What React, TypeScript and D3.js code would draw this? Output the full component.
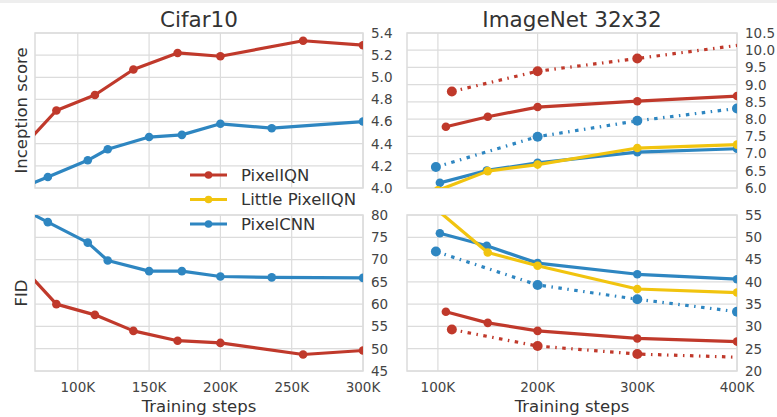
import React from 'react'
import * as d3 from 'd3'

// training steps are in thousands
const cifarStepsIQN = [62, 85, 112, 139, 170, 200, 258, 300]
const cifarIsIQN = [4.38, 4.7, 4.84, 5.07, 5.22, 5.19, 5.33, 5.29]
const cifarFidIQN = [68.0, 60.0, 57.6, 54.0, 51.8, 51.3, 48.7, 49.6]
const cifarStepsCNN = [62, 79, 107, 121, 150, 173, 200, 236, 300]
const cifarIsCNN = [4.01, 4.1, 4.25, 4.35, 4.46, 4.48, 4.58, 4.54, 4.6]
const cifarFidCNN = [81.2, 78.4, 73.8, 69.8, 67.4, 67.4, 66.2, 66.0, 65.9]

const inetStepsIQN = [108, 150, 200, 300, 400]
const inetIsIQN = [7.78, 8.07, 8.35, 8.52, 8.67]
const inetFidIQN = [33.3, 30.8, 29.0, 27.3, 26.6]
const inetStepsLittle = [100, 150, 200, 300, 400]
const inetIsLittle = [5.93, 6.49, 6.68, 7.16, 7.26]
const inetFidLittle = [56.0, 46.6, 43.6, 38.4, 37.6]
const inetStepsCNN = [102, 149, 200, 300, 400]
const inetIsCNN = [6.15, 6.51, 6.73, 7.04, 7.14]
const inetFidCNN = [50.9, 48.1, 44.2, 41.7, 40.6]
const inetStepsIQNDot = [114, 200, 300, 400]
const inetIsIQNDot = [8.8, 9.39, 9.76, 10.14]
const inetFidIQNDot = [29.3, 25.6, 23.8, 23.1]
const inetStepsCNNDot = [98, 200, 300, 400]
const inetIsCNNDot = [6.61, 7.49, 7.95, 8.31]
const inetFidCNNDot = [46.8, 39.3, 36.1, 33.3]

const cifarXTicks = [100, 150, 200, 250, 300]
const inetXTicks = [100, 200, 300, 400]
const cifarIsTicks = [4.0, 4.2, 4.4, 4.6, 4.8, 5.0, 5.2, 5.4]
const inetIsTicks = [6.0, 6.5, 7.0, 7.5, 8.0, 8.5, 9.0, 9.5, 10.0, 10.5]
const cifarFidTicks = [45, 50, 55, 60, 65, 70, 75, 80]
const inetFidTicks = [20, 25, 30, 35, 40, 45, 50, 55]

const legendNames = ['PixelIQN', 'Little PixelIQN', 'PixelCNN']

const RED = '#c0392b'
const YELLOW = '#f1c40f'
const BLUE = '#2e86c1'
const GRID = '#dcdcdc'
const TEXT = '#333'
const TICK = '#444'
const FONT = 'DejaVu Sans, sans-serif'

type Series = { x: number[]; y: number[]; color: string; dotted?: boolean; noMarkLast?: boolean }

const zip = (xs: number[], ys: number[]) => xs.map((x, i) => [x, ys[i]] as [number, number])

function Panel({ id, left, right, top, bottom, xDomain, yDomain, xTicks, yTicks, yFmt, series, showX }: any) {
  const x = d3.scaleLinear().domain(xDomain).range([left, right])
  const y = d3.scaleLinear().domain(yDomain).range([bottom, top])
  const line = d3.line<[number, number]>().x((d) => x(d[0])).y((d) => y(d[1]))
  return (
    <g>
      <defs>
        <clipPath id={id}>
          <rect x={left} y={top} width={right - left} height={bottom - top} />
        </clipPath>
      </defs>
      <rect x={left} y={top} width={right - left} height={bottom - top} fill="#fff" />
      {xTicks.map((t: number) => (
        <line key={'gx' + t} x1={x(t)} x2={x(t)} y1={top} y2={bottom} stroke={GRID} strokeWidth={1.2} />
      ))}
      {yTicks.map((t: number) => (
        <line key={'gy' + t} x1={left} x2={right} y1={y(t)} y2={y(t)} stroke={GRID} strokeWidth={1.2} />
      ))}
      <rect x={left} y={top} width={right - left} height={bottom - top} fill="none" stroke={GRID} strokeWidth={1.5} />
      <g clipPath={`url(#${id})`}>
        {series.map((s: Series, i: number) => {
          const pts = zip(s.x, s.y)
          return (
            <g key={i}>
              <path
                d={line(pts) || ''}
                fill="none"
                stroke={s.color}
                strokeWidth={3.2}
                strokeLinejoin="round"
                strokeDasharray={s.dotted ? '3.5 5.5 1.5 5.5' : undefined}
              />
              {pts.map((p, j) =>
                s.noMarkLast && j === pts.length - 1 ? null : (
                  <circle key={j} cx={x(p[0])} cy={y(p[1])} r={s.dotted ? 5 : 4.3} fill={s.color} />
                )
              )}
            </g>
          )
        })}
      </g>
      {yTicks.map((t: number) => (
        <text key={'ty' + t} x={right + 8} y={y(t)} dy="0.36em" fontSize={13.5} fill={TICK}>
          {yFmt(t)}
        </text>
      ))}
      {showX &&
        xTicks.map((t: number) => (
          <text key={'tx' + t} x={x(t)} y={bottom + 21} textAnchor="middle" fontSize={13.5} fill={TICK}>
            {t + 'K'}
          </text>
        ))}
      {showX && (
        <text x={(left + right) / 2} y={bottom + 41} textAnchor="middle" fontSize={16.5} fill={TEXT}>
          Training steps
        </text>
      )}
    </g>
  )
}

export default function App() {
  const cL = 35, cR = 363, iL = 407, iR = 737
  const tT = 33, tB = 188, bT = 215, bB = 371
  const f1 = d3.format('.1f')
  const f0 = d3.format('d')
  const colors = [RED, YELLOW, BLUE]
  return (
    <svg width={777} height={417} style={{ position: 'absolute', left: 0, top: 0, fontFamily: FONT }}>
      <rect x={0} y={0} width={777} height={417} fill="#fff" />
      <rect x={0} y={0} width={777} height={3} fill="#eeeeee" />
      <text x={(cL + cR) / 2} y={27} textAnchor="middle" fontSize={21.5} fill={TEXT}>Cifar10</text>
      <text x={(iL + iR) / 2} y={27} textAnchor="middle" fontSize={21.5} fill={TEXT}>ImageNet 32x32</text>
      <text transform={`translate(27,${(tT + tB) / 2}) rotate(-90)`} textAnchor="middle" fontSize={16.5} fill={TEXT}>
        Inception score
      </text>
      <text transform={`translate(27,${(bT + bB) / 2}) rotate(-90)`} textAnchor="middle" fontSize={16.5} fill={TEXT}>
        FID
      </text>
      <Panel
        id="c1" left={cL} right={cR} top={tT} bottom={tB}
        xDomain={[70, 300]} yDomain={[4.0, 5.4]} xTicks={cifarXTicks} yTicks={cifarIsTicks} yFmt={f1}
        series={[
          { x: cifarStepsIQN, y: cifarIsIQN, color: RED },
          { x: cifarStepsCNN, y: cifarIsCNN, color: BLUE },
        ]}
      />
      <Panel
        id="c2" left={cL} right={cR} top={bT} bottom={bB} showX
        xDomain={[70, 300]} yDomain={[45, 80]} xTicks={cifarXTicks} yTicks={cifarFidTicks} yFmt={f0}
        series={[
          { x: cifarStepsIQN, y: cifarFidIQN, color: RED },
          { x: cifarStepsCNN, y: cifarFidCNN, color: BLUE },
        ]}
      />
      <Panel
        id="i1" left={iL} right={iR} top={tT} bottom={tB}
        xDomain={[69, 400]} yDomain={[6.0, 10.5]} xTicks={inetXTicks} yTicks={inetIsTicks} yFmt={f1}
        series={[
          { x: inetStepsIQNDot, y: inetIsIQNDot, color: RED, dotted: true, noMarkLast: true },
          { x: inetStepsCNNDot, y: inetIsCNNDot, color: BLUE, dotted: true },
          { x: inetStepsIQN, y: inetIsIQN, color: RED },
          { x: inetStepsCNN, y: inetIsCNN, color: BLUE },
          { x: inetStepsLittle, y: inetIsLittle, color: YELLOW },
        ]}
      />
      <Panel
        id="i2" left={iL} right={iR} top={bT} bottom={bB} showX
        xDomain={[69, 400]} yDomain={[20, 55]} xTicks={inetXTicks} yTicks={inetFidTicks} yFmt={f0}
        series={[
          { x: inetStepsIQNDot, y: inetFidIQNDot, color: RED, dotted: true, noMarkLast: true },
          { x: inetStepsCNNDot, y: inetFidCNNDot, color: BLUE, dotted: true },
          { x: inetStepsIQN, y: inetFidIQN, color: RED },
          { x: inetStepsCNN, y: inetFidCNN, color: BLUE },
          { x: inetStepsLittle, y: inetFidLittle, color: YELLOW },
        ]}
      />
      <g>
        {legendNames.map((name, i) => {
          const ly = 175 + i * 24.5
          return (
            <g key={name}>
              <line x1={190} x2={227} y1={ly} y2={ly} stroke={colors[i]} strokeWidth={3.2} />
              <circle cx={208.5} cy={ly} r={3.8} fill={colors[i]} />
              <text x={241} y={ly} dy="0.36em" fontSize={16.5} fill={TEXT}>{name}</text>
            </g>
          )
        })}
      </g>
    </svg>
  )
}
